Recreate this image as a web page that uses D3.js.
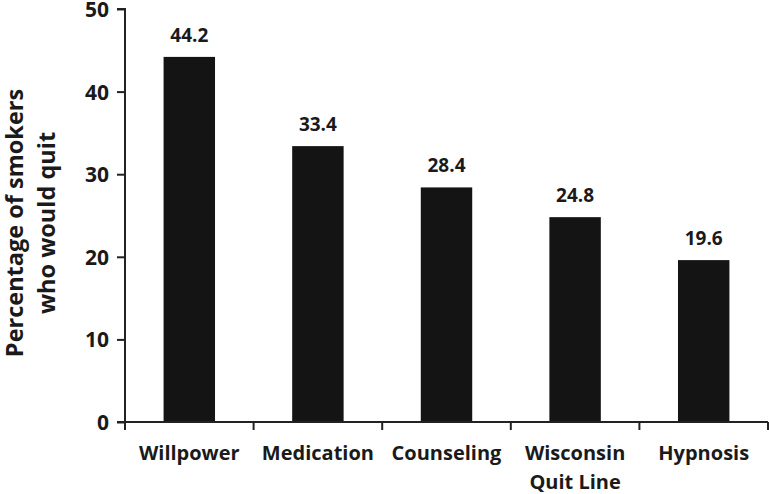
<!DOCTYPE html>
<html><head><meta charset="utf-8">
<script src="https://cdn.jsdelivr.net/npm/d3@7"></script>
<style>body{margin:0;background:#fff}svg{display:block}text{font-family:"Open Sans",sans-serif;font-weight:bold;fill:#1a1a1a}</style>
</head><body>
<script>
const categories = [["Willpower"],["Medication"],["Counseling"],["Wisconsin","Quit Line"],["Hypnosis"]];
const values = [44.2, 33.4, 28.4, 24.8, 19.6];
const yTicks = [0,10,20,30,40,50];
const yTitle = ["Percentage of smokers","who would quit"];

const W=769,H=494, L=125, R=768, T=9, B=422;
const svg=d3.select("body").append("svg").attr("width",W).attr("height",H);
const keys=categories.map((c,i)=>i);
const x=d3.scaleBand().domain(keys).range([L,R]).paddingInner(0.6).paddingOuter(0.3);
const y=d3.scaleLinear().domain([0,50]).range([B,T]);

svg.selectAll("rect.bar").data(values).join("rect").attr("class","bar")
 .attr("x",(d,i)=>x(i)).attr("width",x.bandwidth())
 .attr("y",d=>y(d)).attr("height",d=>y(0)-y(d)).attr("fill","#141414");

svg.selectAll("text.val").data(values).join("text").attr("class","val")
 .attr("x",(d,i)=>x(i)+x.bandwidth()/2).attr("y",d=>y(d)-15)
 .attr("text-anchor","middle").attr("font-size",19).text(d=>d.toFixed(1));

// y axis
const ya=svg.append("g").attr("transform",`translate(${L},0)`)
 .call(d3.axisLeft(y).tickValues(yTicks).tickSize(8).tickPadding(8));
ya.select(".domain").attr("stroke","#222").attr("stroke-width",2).attr("d",`M-8,${T}H0V${B}`);
ya.selectAll(".tick line").attr("stroke","#222").attr("stroke-width",2);
ya.selectAll(".tick text").attr("font-size",21).attr("fill","#1a1a1a").attr("font-family","'Open Sans',sans-serif").attr("dy","0.36em");

// x axis
const xb=d3.scaleLinear().domain([0,5]).range([L,R]);
const xa=svg.append("g").attr("transform",`translate(0,${B})`);
xa.append("line").attr("x1",L-8).attr("x2",R).attr("stroke","#222").attr("stroke-width",2);
xa.selectAll("line.t").data(d3.range(6)).join("line").attr("class","t")
 .attr("x1",d=>xb(d)).attr("x2",d=>xb(d)).attr("y1",0).attr("y2",8).attr("stroke","#222").attr("stroke-width",2);
categories.forEach((c,i)=>{
  const t=xa.append("text").attr("text-anchor","middle").attr("font-size",20)
   .attr("x",x(i)+x.bandwidth()/2).attr("y",38);
  c.forEach((s,j)=>t.append("tspan").attr("x",x(i)+x.bandwidth()/2).attr("dy",j?29:0).text(s));
});

// y title
const yt=svg.append("text").attr("transform",`translate(0,223) rotate(-90)`).attr("text-anchor","middle").attr("font-size",23.5);
yTitle.forEach((s,j)=>yt.append("tspan").attr("x",0).attr("y",j?55:23).text(s));
</script>
</body></html>
